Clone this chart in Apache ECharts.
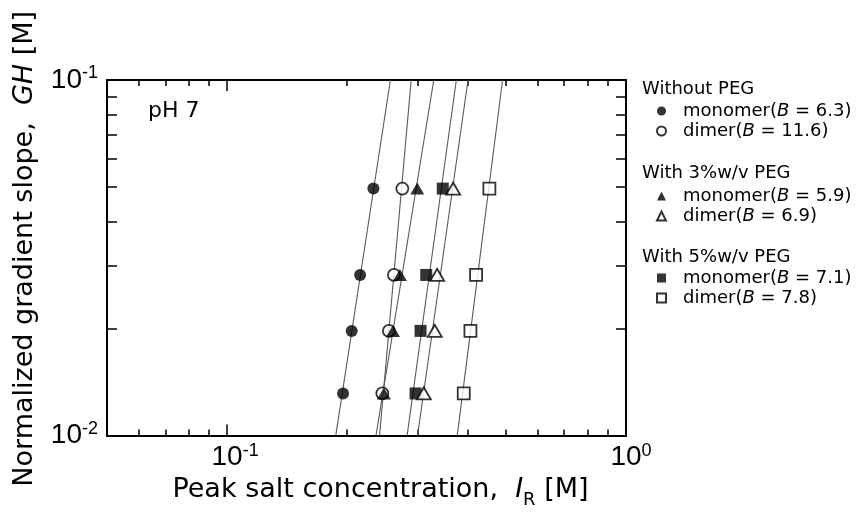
<!DOCTYPE html>
<html>
<head>
<meta charset="utf-8">
<script src="https://cdn.jsdelivr.net/npm/echarts@6/dist/echarts.min.js"></script>
<style>
  html, body { margin: 0; padding: 0; background: #fff; }
  #chart { width: 856px; height: 514px; }
</style>
</head>
<body>
<div id="chart"></div>
<script>
// Normalized gradient slope GH [M] for the four gradient runs
const ghLevels = [0.0495, 0.0283, 0.0197, 0.01314];

// Peak salt concentration I_R [M] at each GH level
const noPegMonomer = [0.2327, 0.2155, 0.2053, 0.1953];
const noPegDimer   = [0.2750, 0.2620, 0.2545, 0.2450];
const peg3Monomer  = [0.2997, 0.2712, 0.2605, 0.2472];
const peg3Dimer    = [0.3687, 0.3362, 0.3316, 0.3113];
const peg5Monomer  = [0.3473, 0.3157, 0.3055, 0.2968];
const peg5Dimer    = [0.4545, 0.4209, 0.4074, 0.3920];

// Binding-site numbers B (log-log slope = B + 1)
const bNoPegMonomer = 6.3;
const bNoPegDimer   = 11.6;
const bPeg3Monomer  = 5.9;
const bPeg3Dimer    = 6.9;
const bPeg5Monomer  = 7.1;
const bPeg5Dimer    = 7.8;

const groupTitles = ['Without PEG', 'With 3%w/v PEG', 'With 5%w/v PEG'];
const speciesNames = ['monomer', 'dimer'];

// Axis ticks
const xMajorTicks = [0.1, 1];
const xMinorTicks = [0.06, 0.07, 0.08, 0.09, 0.2, 0.3, 0.4, 0.5, 0.6, 0.7, 0.8, 0.9];
const yMajorTicks = [0.01, 0.1];
const yMinorTicks = [0.02, 0.03, 0.04, 0.05, 0.06, 0.07, 0.08, 0.09];

const TICK_FONT = '"Liberation Sans", Arial, Helvetica, sans-serif';
const TEXT_FONT = '"DejaVu Sans", "Liberation Sans", Arial, sans-serif';

// Series list: draw order puts open triangles above filled squares
const seriesDefs = [
  { x: noPegMonomer, b: bNoPegMonomer, species: 0, symbol: 'circle',   filled: true,  size: 12 },
  { x: noPegDimer,   b: bNoPegDimer,   species: 1, symbol: 'circle',   filled: false, size: 12 },
  { x: peg3Monomer,  b: bPeg3Monomer,  species: 0, symbol: 'triangle', filled: true,  size: [14, 12] },
  { x: peg5Monomer,  b: bPeg5Monomer,  species: 0, symbol: 'rect',     filled: true,  size: 12 },
  { x: peg3Dimer,    b: bPeg3Dimer,    species: 1, symbol: 'triangle', filled: false, size: [14, 12] },
  { x: peg5Dimer,    b: bPeg5Dimer,    species: 1, symbol: 'rect',     filled: false, size: 12 }
];
seriesDefs.forEach(d => { d.name = speciesNames[d.species] + '(B = ' + d.b + ')'; });

const legendGroups = [
  [seriesDefs[0].name, seriesDefs[1].name],
  [seriesDefs[2].name, seriesDefs[4].name],
  [seriesDefs[3].name, seriesDefs[5].name]
];

// Fitted line with slope fixed at B+1 in log-log space, spanning the y range
function fitLine(xs, b) {
  const s = b + 1;
  const lx = xs.map(v => Math.log10(v));
  const ly = ghLevels.map(v => Math.log10(v));
  const mx = lx.reduce((a, c) => a + c, 0) / lx.length;
  const my = ly.reduce((a, c) => a + c, 0) / ly.length;
  const c = my - s * mx;
  return yMajorTicks.map(y => [Math.pow(10, (Math.log10(y) - c) / s), y]);
}

const lineSeries = seriesDefs.map(d => ({
  type: 'line',
  name: 'fit ' + d.name,
  data: fitLine(d.x, d.b),
  showSymbol: false,
  symbol: 'none',
  silent: true,
  z: 1,
  lineStyle: { color: '#5a5a5a', width: 1.1 },
  xAxisIndex: 0, yAxisIndex: 0
}));

const scatterSeries = seriesDefs.map(d => ({
  type: 'scatter',
  name: d.name,
  symbol: d.symbol,
  symbolSize: d.size,
  z: 3,
  itemStyle: d.filled
    ? { color: '#000', borderColor: '#000', borderWidth: 0 }
    : { color: '#fff', borderColor: '#000', borderWidth: 1.8 },
  data: d.x.map((v, i) => [v, ghLevels[i]]),
  xAxisIndex: 0, yAxisIndex: 0
}));

const labelRich = {
  b: { fontFamily: TICK_FONT, fontSize: 28, lineHeight: 32, color: '#000' },
  s: { fontFamily: TICK_FONT, fontSize: 18, lineHeight: 18, color: '#000', verticalAlign: 'top' },
  pn: { width: 16 },
  pz: { width: 10 }
};
function xPowLabel(v) {
  const e = Math.round(Math.log10(v));
  return '{' + (e < 0 ? 'pn' : 'pz') + '|}{b|10}{s|' + e + '}';
}
function yPowLabel(v) {
  const e = Math.round(Math.log10(v));
  return '{b|10}{s|' + e + '}';
}

const baseLog = (extra) => Object.assign({
  type: 'log', logBase: 10,
  gridIndex: 0,
  splitLine: { show: false },
  axisLine: { show: true, lineStyle: { color: '#000', width: 2 } }
}, extra);

const titleRich = {
  n: { fontFamily: TEXT_FONT, fontSize: 27, color: '#000', lineHeight: 30 },
  i: { fontFamily: TEXT_FONT, fontSize: 27, fontStyle: 'italic', color: '#000', lineHeight: 30 },
  r: { fontFamily: TEXT_FONT, fontSize: 18, color: '#000', lineHeight: 30, verticalAlign: 'bottom', padding: [0, 0, -4, 0] }
};

const xAxes = [
  baseLog({
    min: 0.05, max: 1, position: 'bottom',
    axisTick: { show: true, inside: true, length: 11, customValues: xMajorTicks, lineStyle: { color: '#000', width: 1.5 } },
    axisLabel: { show: true, customValues: xMajorTicks, formatter: xPowLabel, margin: 6, rich: labelRich },
    name: '{n|Peak salt concentration,  }{i|I}{r|R}{n| [M]}',
    nameLocation: 'middle', nameGap: 35,
    nameTextStyle: { padding: [0, 0, 0, 28], rich: titleRich }
  }),
  baseLog({
    min: 0.05, max: 1, position: 'bottom',
    axisTick: { show: true, inside: true, length: 6, customValues: xMinorTicks, lineStyle: { color: '#000', width: 1.5 } },
    axisLabel: { show: false }
  }),
  baseLog({
    min: 0.05, max: 1, position: 'top',
    axisTick: { show: true, inside: true, length: 11, customValues: xMajorTicks, lineStyle: { color: '#000', width: 1.5 } },
    axisLabel: { show: false }
  }),
  baseLog({
    min: 0.05, max: 1, position: 'top',
    axisTick: { show: true, inside: true, length: 6, customValues: xMinorTicks, lineStyle: { color: '#000', width: 1.5 } },
    axisLabel: { show: false }
  })
];

const yAxes = [
  baseLog({
    min: 0.01, max: 0.1, position: 'left',
    axisTick: { show: true, inside: true, length: 10, customValues: yMinorTicks, lineStyle: { color: '#000', width: 1.5 } },
    axisLabel: { show: true, customValues: yMajorTicks, formatter: yPowLabel, margin: 9, rich: labelRich },
    name: '{n|Normalized gradient slope,  }{i|GH}{n| [M]}',
    nameLocation: 'middle', nameGap: 67,
    nameTextStyle: { padding: [0, 0, 0, 18], rich: titleRich }
  }),
  baseLog({
    min: 0.01, max: 0.1, position: 'right',
    axisTick: { show: true, inside: true, length: 10, customValues: yMinorTicks, lineStyle: { color: '#000', width: 1.5 } },
    axisLabel: { show: false }
  })
];

function legendLabel(name) {
  const parts = name.split('B');
  return '{n|' + parts[0] + '}{i|B}{n|' + parts[1] + '}';
}

const legendTops = [101, 186, 268];
const headerTops = [80, 164, 248];

const legends = legendGroups.map((names, gi) => ({
  orient: 'vertical',
  left: 656,
  top: legendTops[gi],
  itemWidth: 9,
  itemHeight: 9,
  itemGap: 0,
  padding: 0,
  selectedMode: false,
  data: names,
  formatter: legendLabel,
  textStyle: {
    color: '#000',
    fontFamily: TEXT_FONT,
    fontSize: 18,
    lineHeight: 20,
    padding: [0, 0, 0, 12],
    rich: {
      n: { fontFamily: TEXT_FONT, fontSize: 18, color: '#000', lineHeight: 20 },
      i: { fontFamily: TEXT_FONT, fontSize: 18, fontStyle: 'italic', color: '#000', lineHeight: 20 }
    }
  }
}));

const chart = echarts.init(document.getElementById('chart'), null, { renderer: 'canvas' });
chart.setOption({
  backgroundColor: '#fff',
  animation: false,
  grid: { left: 107, top: 80, right: 230, bottom: 65, containLabel: false },
  xAxis: xAxes,
  yAxis: yAxes,
  legend: legends,
  graphic: [
    {
      type: 'text', left: 148, top: 100,
      style: { text: 'pH 7', fontFamily: TEXT_FONT, fontSize: 22, fill: '#000' }
    }
  ].concat(groupTitles.map((t, gi) => ({
    type: 'text', left: 642, top: headerTops[gi],
    style: { text: t, fontFamily: TEXT_FONT, fontSize: 18, fill: '#000' }
  }))),
  series: lineSeries.concat(scatterSeries)
});
</script>
</body>
</html>
